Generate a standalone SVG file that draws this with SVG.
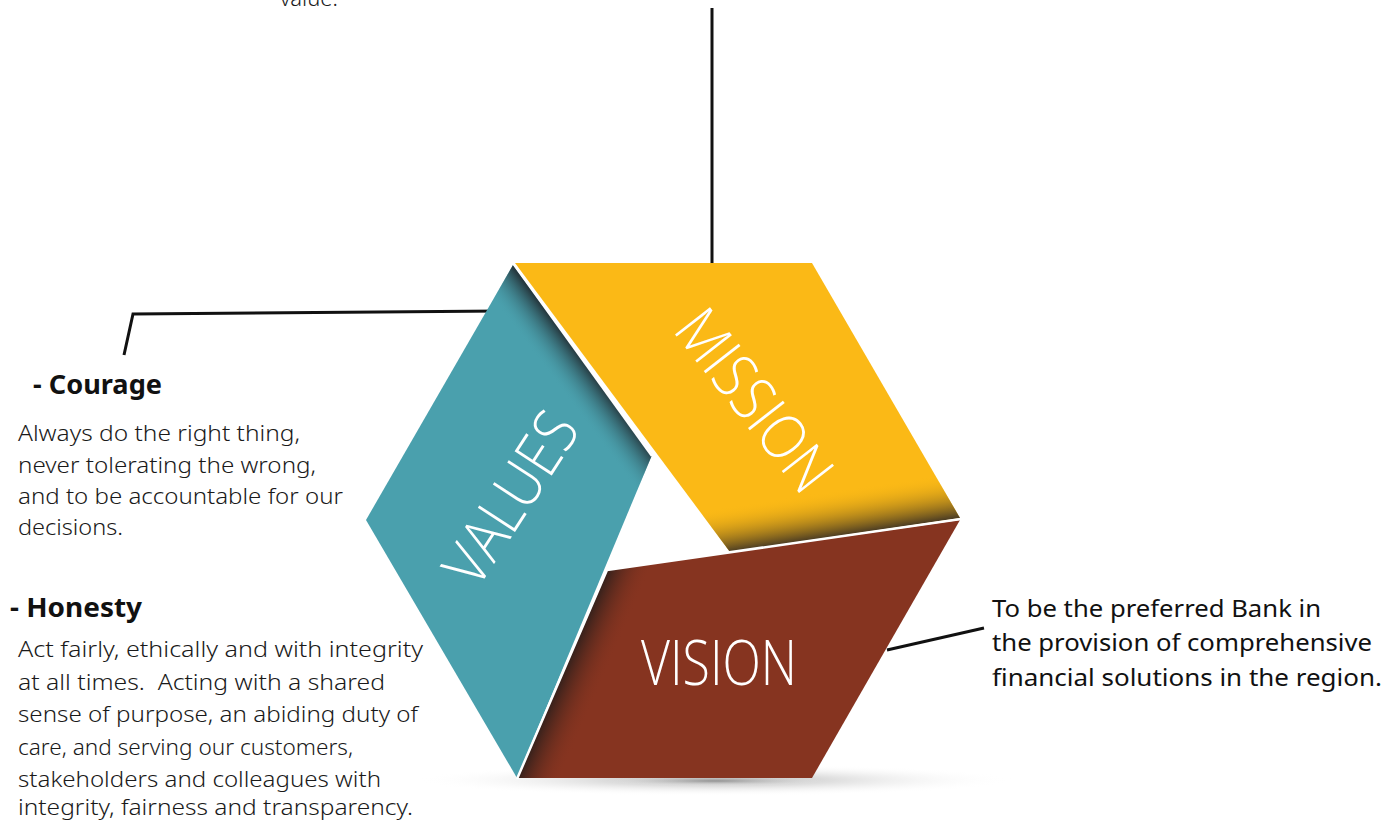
<svg xmlns="http://www.w3.org/2000/svg" width="1397" height="821" viewBox="0 0 1397 821">
<style>
.body{font-family:"Noto Sans","Open Sans",sans-serif;font-size:21px;fill:#1a1a1a;font-weight:300}
.head{font-family:"Noto Sans","Open Sans",sans-serif;font-size:27px;fill:#111;font-weight:700}
.vis{font-family:"Noto Sans","Open Sans",sans-serif;font-size:23px;fill:#111}
.big{font-family:"Open Sans","Noto Sans",sans-serif;font-size:62px;fill:#fff;font-weight:300}
.conn{fill:none;stroke:#111;stroke-width:3}
.sep{stroke:#fff;stroke-width:2.5;fill:none}
</style>
<defs>
<radialGradient id="shadow" cx="0.5" cy="0.5" r="0.5">
<stop offset="0" stop-color="#8a8a8a" stop-opacity="0.75"/>
<stop offset="1" stop-color="#ffffff" stop-opacity="0"/>
</radialGradient>
<linearGradient id="tealShade" gradientUnits="userSpaceOnUse" x1="582" y1="360" x2="554" y2="381">
<stop offset="0" stop-color="#24343a" stop-opacity="0.95"/>
<stop offset="1" stop-color="#4aa0ad" stop-opacity="0"/>
</linearGradient>
<linearGradient id="yellowShade" gradientUnits="userSpaceOnUse" x1="845" y1="537" x2="838" y2="490">
<stop offset="0" stop-color="#3a3024" stop-opacity="1"/>
<stop offset="1" stop-color="#fbb916" stop-opacity="0"/>
</linearGradient>
<linearGradient id="brownShade" gradientUnits="userSpaceOnUse" x1="562" y1="674" x2="599" y2="690">
<stop offset="0" stop-color="#2e1f1b" stop-opacity="0.95"/>
<stop offset="1" stop-color="#863420" stop-opacity="0"/>
</linearGradient>
</defs>

<text class="body" x="280" y="6" style="font-size:22px">value.</text>

<g id="connectors">
<line class="conn" x1="712" y1="8" x2="712" y2="263"/>
<polyline class="conn" points="124,355 133,314 501,311"/>
<line class="conn" x1="887" y1="650" x2="984" y2="628"/>
</g>

<ellipse cx="715" cy="780" rx="300" ry="16" fill="url(#shadow)"/>
<ellipse cx="715" cy="781" rx="110" ry="5" fill="url(#shadow)"/>

<g id="node-values">
<polygon points="513,265 652,455 517,778 366,520" fill="#4aa0ad"/>
<polygon points="513,265 652,455 517,778 366,520" fill="url(#tealShade)"/>
<text class="big" transform="translate(509,497) rotate(-57)" text-anchor="middle" dominant-baseline="central" textLength="192" lengthAdjust="spacingAndGlyphs">VALUES</text>
</g>

<g id="node-mission">
<polygon points="515,263 812,263 960,518 730,552" fill="#fbb916"/>
<polygon points="515,263 812,263 960,518 730,552" fill="url(#yellowShade)"/>
<text class="big" transform="translate(756,399) rotate(52)" text-anchor="middle" dominant-baseline="central" textLength="212" lengthAdjust="spacingAndGlyphs">MISSION</text>
</g>

<g id="node-vision">
<polygon points="607,570 960,520 812,778 517,778" fill="#863420"/>
<polygon points="607,570 960,520 812,778 517,778" fill="url(#brownShade)"/>
<text class="big" x="719" y="685" text-anchor="middle" textLength="156" lengthAdjust="spacingAndGlyphs">VISION</text>
</g>

<g id="separators">
<line class="sep" x1="513" y1="263" x2="652" y2="456"/>
<polyline class="sep" points="517,779 607,570 961,519"/>
</g>

<g id="text-courage">
<text class="head" x="33" y="394" textLength="129" lengthAdjust="spacingAndGlyphs">- Courage</text>
<text class="body" x="18" y="441" textLength="282" lengthAdjust="spacingAndGlyphs">Always do the right thing,</text>
<text class="body" x="18" y="473" textLength="298" lengthAdjust="spacingAndGlyphs">never tolerating the wrong,</text>
<text class="body" x="18" y="504" textLength="325" lengthAdjust="spacingAndGlyphs">and to be accountable for our</text>
<text class="body" x="18" y="535" textLength="105" lengthAdjust="spacingAndGlyphs">decisions.</text>
</g>

<g id="text-honesty">
<text class="head" x="10" y="617" textLength="132" lengthAdjust="spacingAndGlyphs">- Honesty</text>
<text class="body" x="18" y="657" textLength="405" lengthAdjust="spacingAndGlyphs">Act fairly, ethically and with integrity</text>
<text class="body" x="18" y="690" textLength="367" lengthAdjust="spacingAndGlyphs">at all times.&#160; Acting with a shared</text>
<text class="body" x="18" y="722" textLength="400" lengthAdjust="spacingAndGlyphs">sense of purpose, an abiding duty of</text>
<text class="body" x="18" y="755" textLength="335" lengthAdjust="spacingAndGlyphs">care, and serving our customers,</text>
<text class="body" x="18" y="787" textLength="363" lengthAdjust="spacingAndGlyphs">stakeholders and colleagues with</text>
<text class="body" x="18" y="815" textLength="395" lengthAdjust="spacingAndGlyphs">integrity, fairness and transparency.</text>
</g>

<g id="text-vision">
<text class="vis" x="992" y="617" textLength="329" lengthAdjust="spacingAndGlyphs">To be the preferred Bank in</text>
<text class="vis" x="992" y="651" textLength="380" lengthAdjust="spacingAndGlyphs">the provision of comprehensive</text>
<text class="vis" x="992" y="686" textLength="390" lengthAdjust="spacingAndGlyphs">financial solutions in the region.</text>
</g>
</svg>
